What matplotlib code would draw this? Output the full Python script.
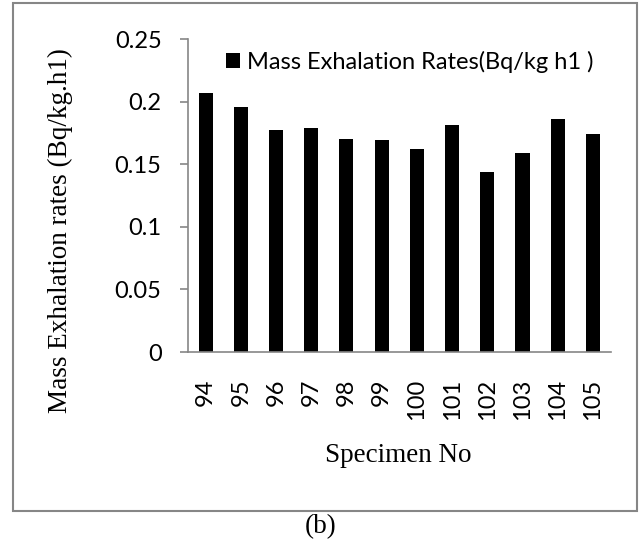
import matplotlib.pyplot as plt
from matplotlib.patches import Rectangle

specimens = ['94', '95', '96', '97', '98', '99', '100', '101', '102', '103', '104', '105']
mass_rates = [0.207, 0.196, 0.177, 0.179, 0.170, 0.169, 0.162, 0.181, 0.144, 0.159, 0.186, 0.174]
y_ticks = [0, 0.05, 0.1, 0.15, 0.2, 0.25]
y_ticklabels = ['0', '0.05', '0.1', '0.15', '0.2', '0.25']

axis_grey = '#868686'

fig = plt.figure(figsize=(6.39, 5.45), dpi=100)
ax = fig.add_axes([0.2942, 0.3541, 0.6612, 0.5743])

x = range(len(specimens))
ax.bar(x, mass_rates, width=0.4, color='black',
       label='Mass Exhalation Rates(Bq/kg h1 )')

ax.set_xlim(-0.5, len(specimens) - 0.5)
ax.set_ylim(0, 0.25)
ax.set_yticks(y_ticks)
ax.set_yticklabels(y_ticklabels, fontfamily='Lato', fontsize=17)
ax.set_xticks(list(x))
ax.set_xticklabels(specimens, rotation=90, fontfamily='Lato', fontsize=17)

for side in ['top', 'right']:
    ax.spines[side].set_visible(False)
for side in ['left', 'bottom']:
    ax.spines[side].set_color(axis_grey)
    ax.spines[side].set_linewidth(1.2)
ax.tick_params(axis='y', length=6, width=1.2, color=axis_grey, pad=13)
ax.tick_params(axis='x', length=0, pad=19)

ax.set_ylabel('Mass Exhalation rates (Bq/kg.h1)', fontfamily='Liberation Serif',
              fontsize=19.5)
ax.yaxis.set_label_coords(-0.272, 0.387)

leg = ax.legend(loc='upper left', bbox_to_anchor=(0.04, 1.03), frameon=False,
                prop={'family': 'Lato', 'size': 17}, handlelength=0.6,
                handleheight=0.6, handletextpad=0.3)

fig.text(0.624, 0.165, 'Specimen No', fontfamily='Liberation Serif',
         fontsize=19.5, ha='center', va='center')
fig.text(0.502, 0.033, '(b)', fontfamily='Liberation Serif',
         fontsize=19.5, ha='center', va='center')

# outer frame around the chart area
fig.patches.append(Rectangle((12.7 / 639, 1 - 511 / 545), (637 - 12.7) / 639,
                             (511 - 3) / 545, transform=fig.transFigure,
                             fill=False, edgecolor=axis_grey, linewidth=1.5))

fig.savefig('out.png', dpi=100)
